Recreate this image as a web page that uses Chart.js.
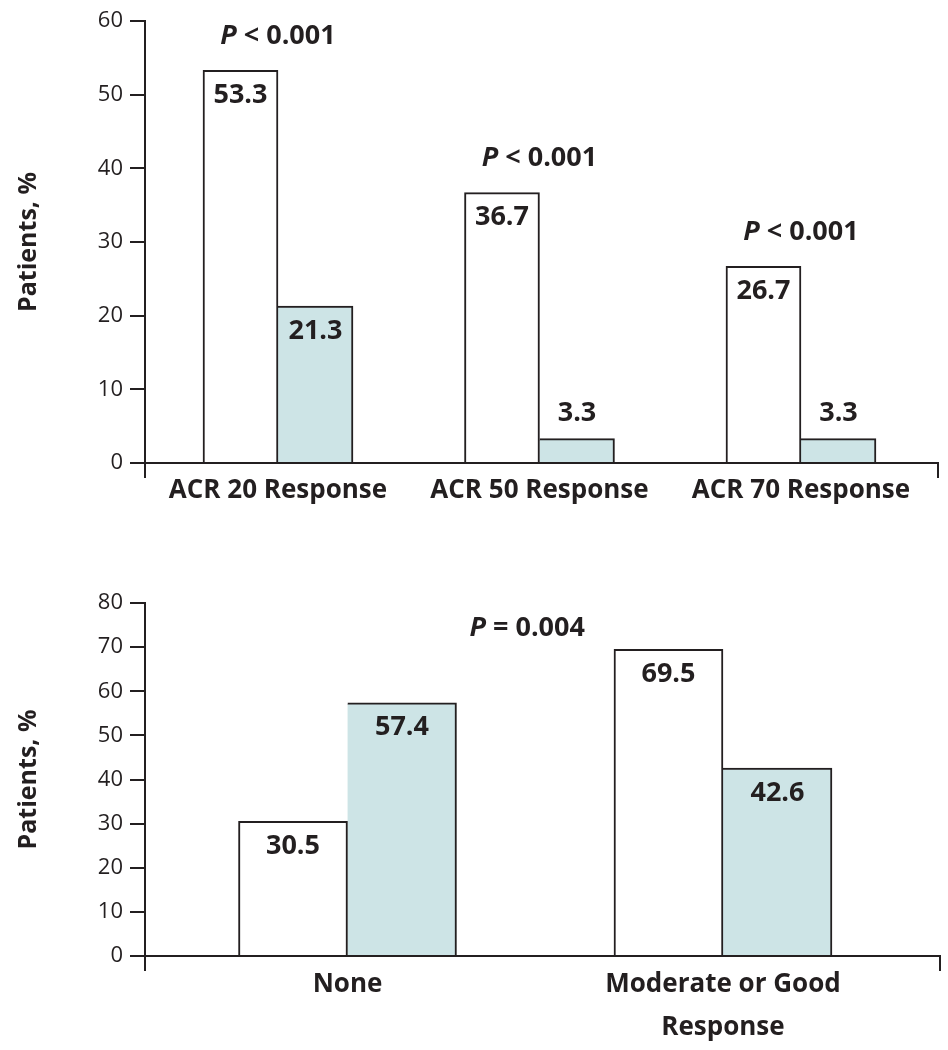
<!DOCTYPE html>
<html><head><meta charset="utf-8">
<script src="https://cdn.jsdelivr.net/npm/chart.js@4/dist/chart.umd.min.js"></script>
<style>
html,body{margin:0;padding:0;background:#fff;}
#wrap{width:948px;height:1050px;position:relative;}
.box{position:absolute;left:0;width:948px;height:525px;}
#b1{top:0;}
#b2{top:525px;}
</style></head><body>
<div id="wrap"><div class="box" id="b1"><canvas id="c1"></canvas></div><div class="box" id="b2"><canvas id="c2"></canvas></div></div>
<script>
// ---- data ----
const topCategories = ['ACR 20 Response', 'ACR 50 Response', 'ACR 70 Response'];
const topTreatment = [53.3, 36.7, 26.7];
const topControl = [21.3, 3.3, 3.3];
const topPValues = ['< 0.001', '< 0.001', '< 0.001'];
const topYMax = 60;

const bottomCategories = [['None'], ['Moderate or Good', 'Response']];
const bottomTreatment = [30.5, 69.5];
const bottomControl = [57.4, 42.6];
const bottomPValue = '= 0.004';
const bottomYMax = 80;

const yStep = 10;
const yTitle = 'Patients, %';

// ---- style ----
const DARK = '#231f20';
const TEAL = '#cde4e6';
const FONT = '"Open Sans", "DejaVu Sans", sans-serif';

function drawP(ctx, rest, cx, cy) {
  ctx.save();
  ctx.fillStyle = DARK;
  ctx.textBaseline = 'middle';
  ctx.textAlign = 'left';
  const fI = 'italic bold 27px ' + FONT;
  const fB = 'bold 27px ' + FONT;
  ctx.font = fI; const wP = ctx.measureText('P').width;
  ctx.font = fB; const wR = ctx.measureText(' ' + rest).width;
  const x0 = cx - (wP + wR) / 2;
  ctx.font = fI; ctx.fillText('P', x0, cy);
  ctx.font = fB; ctx.fillText(' ' + rest, x0 + wP, cy);
  ctx.restore();
}

const labelPlugin = {
  id: 'vlabels',
  afterDatasetsDraw(chart) {
    const ctx = chart.ctx;
    const o = chart.options.plugins.vlabels;
    ctx.save();
    ctx.fillStyle = DARK;
    ctx.font = 'bold 27px ' + FONT;
    ctx.textAlign = 'center';
    ctx.textBaseline = 'middle';
    o.series.forEach((vals, di) => {
      const meta = chart.getDatasetMeta(di);
      meta.data.forEach((bar, i) => {
        const h = bar.base - bar.y;
        const ty = h > 50 ? bar.y + 25 : bar.y - 25;
        ctx.fillText(vals[i].toFixed(1), bar.x, ty);
      });
    });
    ctx.restore();
    const xs = chart.scales.x, ys = chart.scales.y;
    if (o.pMode === 'each') {
      const meta = chart.getDatasetMeta(0);
      o.pValues.forEach((p, i) => {
        const bar = meta.data[i];
        drawP(ctx, p, xs.getPixelForValue(i + 1), bar.y - 34);
      });
    } else {
      const allMax = Math.max(...o.series.flat());
      drawP(ctx, o.pValues[0], xs.getPixelForValue((1 + o.series[0].length) / 2) - 8, ys.getPixelForValue(allMax) - 21);
    }
  }
};

function makeChart(id, cats, tr, ct, cfg) {
  return new Chart(document.getElementById(id), {
    type: 'bar',
    data: {
      datasets: [
        { data: tr.map((v, i) => ({ x: i + 1, y: v })), backgroundColor: '#ffffff', borderColor: DARK, borderWidth: { top: 2, left: 2, right: 2, bottom: 0 }, barThickness: cfg.bar },
        { data: ct.map((v, i) => ({ x: i + 1, y: v })), backgroundColor: TEAL, borderColor: DARK, borderWidth: { top: 2, left: 0, right: 2, bottom: 0 }, barThickness: cfg.bar }
      ]
    },
    options: {
      responsive: true, maintainAspectRatio: false, animation: false,
      layout: { padding: { top: cfg.padTop, right: cfg.padRight, bottom: 0, left: 0 } },
      plugins: {
        legend: { display: false }, tooltip: { enabled: false },
        vlabels: { series: [tr, ct], pValues: cfg.pValues, pMode: cfg.pMode }
      },
      scales: {
        x: {
          type: 'linear', min: cfg.xmin, max: cfg.xmax, offset: false,
          afterBuildTicks: s => { s.ticks = [cfg.xmin, ...cats.map((c, i) => i + 1), cfg.xmax].map(v => ({ value: v })); },
          afterFit: s => { s.height = cfg.xh; },
          ticks: {
            autoSkip: false, maxRotation: 0, minRotation: 0, padding: cfg.xpad, color: DARK,
            font: { family: FONT, size: 26, weight: 'bold', lineHeight: cfg.lh },
            callback: (v) => { const k = Math.round(v) - 1; return (Math.abs(v - (k + 1)) < 1e-6 && cats[k]) ? cats[k] : ''; }
          },
          grid: {
            offset: false, drawOnChartArea: false, drawTicks: true, tickLength: 15, lineWidth: 2,
            color: c => (c.tick && (c.tick.value === cfg.xmin || c.tick.value === cfg.xmax)) ? DARK : 'rgba(0,0,0,0)'
          },
          border: { display: true, color: DARK, width: 2 }
        },
        y: {
          min: 0, max: cfg.ymax,
          afterFit: s => { s.width = 145; },
          ticks: { stepSize: yStep, padding: 7, color: DARK, font: { family: FONT, size: 22 } },
          grid: { drawOnChartArea: false, drawTicks: true, tickLength: 15, lineWidth: 2, color: DARK },
          border: { display: true, color: DARK, width: 2 },
          title: { display: true, text: yTitle, color: DARK, font: { family: FONT, size: 25, weight: 'bold' }, padding: { top: 14, bottom: 0 } }
        }
      }
    },
    plugins: [labelPlugin]
  });
}

makeChart('c1', topCategories, topTreatment, topControl, {
  bar: 75, xmin: 0.4914, xmax: 3.524, ymax: topYMax, padTop: 21, padRight: 10, xh: 62, xpad: -3, lh: 1.2,
  pValues: topPValues, pMode: 'each'
});
makeChart('c2', bottomCategories, bottomTreatment, bottomControl, {
  bar: 109, xmin: 0.4607, xmax: 2.578, ymax: bottomYMax, padTop: 78, padRight: 8, xh: 94, xpad: -8, lh: 1.65,
  pValues: [bottomPValue], pMode: 'mid'
});
</script>
</body></html>
